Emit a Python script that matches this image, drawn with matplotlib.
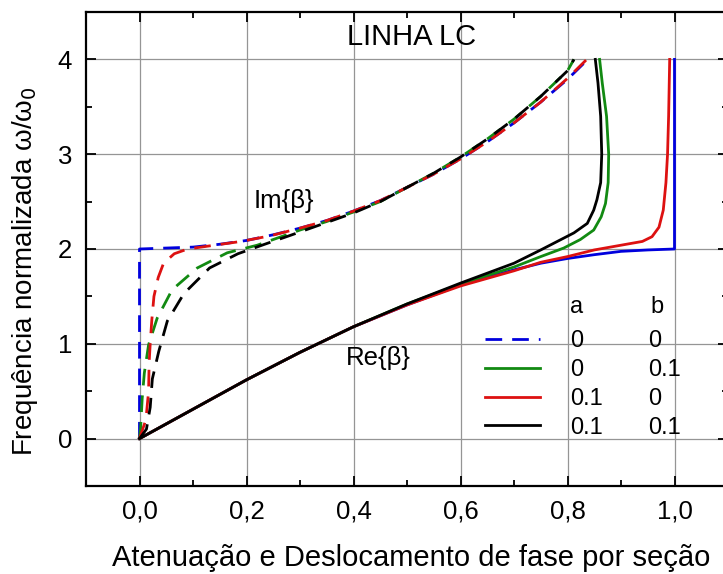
import matplotlib
matplotlib.use("Agg")
from matplotlib import pyplot as plt
from matplotlib.ticker import MultipleLocator, FixedLocator

plt.rcParams['font.family'] = ['Liberation Sans', 'DejaVu Sans']

# Re{beta} curves (x = phase shift per section, y = w/w0)
re_lossless_x = [0.0, 0.1, 0.2, 0.3, 0.4, 0.5, 0.6, 0.7, 0.75, 0.8, 0.85, 0.9, 0.95, 1.0, 1.0]
re_lossless_y = [0.0, 0.31, 0.62, 0.91, 1.18, 1.41, 1.62, 1.78, 1.85, 1.9, 1.94, 1.975, 1.99, 2.0, 4.0]

re_b01_x = [0.0, 0.1, 0.2, 0.3, 0.4, 0.5, 0.6, 0.7, 0.75, 0.793, 0.824, 0.849, 0.863, 0.871,
            0.876, 0.877, 0.873, 0.865, 0.86]
re_b01_y = [0.0, 0.31, 0.62, 0.91, 1.18, 1.42, 1.63, 1.81, 1.92, 2.01, 2.10, 2.20, 2.34, 2.48,
            2.70, 3.0, 3.4, 3.75, 4.0]

re_a01_x = [0.0, 0.1, 0.2, 0.3, 0.4, 0.5, 0.6, 0.7, 0.75, 0.8, 0.85, 0.9, 0.94, 0.958, 0.971,
            0.979, 0.984, 0.987, 0.989, 0.991]
re_a01_y = [0.0, 0.31, 0.62, 0.91, 1.18, 1.41, 1.61, 1.77, 1.86, 1.92, 1.99, 2.04, 2.08, 2.13,
            2.23, 2.41, 2.70, 3.0, 3.4, 4.0]

re_ab01_x = [0.0, 0.1, 0.2, 0.3, 0.4, 0.5, 0.6, 0.7, 0.75, 0.781, 0.812, 0.837, 0.849, 0.855,
             0.862, 0.864, 0.862, 0.857, 0.852]
re_ab01_y = [0.0, 0.31, 0.62, 0.91, 1.18, 1.42, 1.64, 1.85, 1.99, 2.08, 2.17, 2.27, 2.41, 2.52,
             2.70, 3.0, 3.4, 3.75, 4.0]

# Im{beta} curves (attenuation per section)
im_lossless_x = [0.0, 0.0, 0.1, 0.15, 0.2, 0.25, 0.3, 0.35, 0.4, 0.45, 0.5, 0.55, 0.6, 0.65,
                 0.7, 0.75, 0.8, 0.838]
im_lossless_y = [0.0, 2.0, 2.02, 2.05, 2.09, 2.15, 2.22, 2.3, 2.4, 2.51, 2.65, 2.79, 2.95, 3.13,
                 3.33, 3.55, 3.79, 4.0]

im_b01_x = [0.0, 0.002, 0.005, 0.009, 0.017, 0.033, 0.061, 0.108, 0.164, 0.22, 0.26, 0.3, 0.35,
            0.4, 0.45, 0.5, 0.55, 0.6, 0.65, 0.7, 0.75, 0.8, 0.812]
im_b01_y = [0.0, 0.1, 0.42, 0.69, 0.99, 1.27, 1.57, 1.80, 1.96, 2.04, 2.12, 2.2, 2.29,
            2.39, 2.5, 2.65, 2.8, 2.97, 3.16, 3.37, 3.61, 3.88, 4.0]

im_a01_x = [0.0, 0.012, 0.017, 0.018, 0.02, 0.023, 0.027, 0.035, 0.045, 0.065, 0.09, 0.14, 0.19,
            0.245, 0.3, 0.35, 0.4, 0.45, 0.5, 0.55, 0.6, 0.65, 0.7, 0.75, 0.8, 0.836]
im_a01_y = [0.0, 0.2, 0.5, 0.8, 1.0, 1.25, 1.5, 1.7, 1.85, 1.95, 2.0, 2.04, 2.08,
            2.14, 2.22, 2.3, 2.4, 2.51, 2.65, 2.79, 2.95, 3.13, 3.33, 3.55, 3.8, 4.0]

im_ab01_x = [0.0, 0.013, 0.02, 0.024, 0.036, 0.052, 0.083, 0.131, 0.184, 0.239, 0.28, 0.3, 0.35,
             0.4, 0.45, 0.5, 0.55, 0.6, 0.65, 0.7, 0.75, 0.8, 0.812]
im_ab01_y = [0.0, 0.1, 0.33, 0.63, 0.92, 1.24, 1.53, 1.80, 1.95, 2.06, 2.14, 2.18, 2.28,
             2.38, 2.5, 2.65, 2.8, 2.97, 3.16, 3.37, 3.61, 3.88, 4.0]

leg_a = ['0', '0', '0.1', '0.1']
leg_b = ['0', '0.1', '0', '0.1']

xtick_vals = [0.0, 0.2, 0.4, 0.6, 0.8, 1.0]
xtick_labels = ['0,0', '0,2', '0,4', '0,6', '0,8', '1,0']
ytick_vals = [0, 1, 2, 3, 4]

BLUE = '#0000dd'
GREEN = '#128a12'
RED = '#dd1111'
BLACK = '#000000'
DASH = (6, 3.6)

fig = plt.figure(figsize=(7.23, 5.74), dpi=100)
ax = fig.add_axes([86 / 723, 88 / 574, 642 / 723, 474 / 574])

curves = [
    (re_lossless_x, re_lossless_y, im_lossless_x, im_lossless_y, BLUE),
    (re_b01_x, re_b01_y, im_b01_x, im_b01_y, GREEN),
    (re_a01_x, re_a01_y, im_a01_x, im_a01_y, RED),
    (re_ab01_x, re_ab01_y, im_ab01_x, im_ab01_y, BLACK),
]
for rx, ry, ix, iy, col in curves:
    ax.plot(rx, ry, color=col, lw=2, solid_joinstyle='round', zorder=3)
    ax.plot(ix, iy, color=col, lw=2, dashes=DASH, zorder=3)

ax.set_xlim(-0.1, 1.1)
ax.set_ylim(-0.5, 4.5)
ax.xaxis.set_major_locator(FixedLocator(xtick_vals))
ax.set_xticklabels(xtick_labels)
ax.xaxis.set_minor_locator(MultipleLocator(0.1))
ax.yaxis.set_major_locator(FixedLocator(ytick_vals))
ax.yaxis.set_minor_locator(MultipleLocator(0.5))
ax.grid(True, which='major', color='#959595', lw=0.9, zorder=1)
ax.set_axisbelow(True)

ax.tick_params(which='both', direction='in', top=True, right=True, width=1.3,
               labelsize=18.5, pad=10)
ax.tick_params(which='major', length=7)
ax.tick_params(which='minor', length=4)
for side in ['left', 'bottom', 'top']:
    ax.spines[side].set_linewidth(1.6)
ax.spines['right'].set_visible(False)

ax.set_xlabel('Atenuação e Deslocamento de fase por seção', fontsize=21)
ax.xaxis.set_label_coords(0.506, -0.169)
ax.xaxis.label.set_va('baseline')
ax.set_ylabel(r'Frequência normalizada ω/ω$_0$', fontsize=20)
ax.yaxis.set_label_coords(-0.095, 0.4525)
ax.yaxis.label.set_va('center')

ax.text(0.509, 4.24, 'LINHA LC', fontsize=21, ha='center', va='center')
ax.text(0.213, 2.51, 'Im{β}', fontsize=18.5, ha='left', va='center')
ax.text(0.385, 0.85, 'Re{β}', fontsize=18.5, ha='left', va='center')

# legend table with the a / b loss values
tr = ax.transAxes
ax.text(0.7539, 0.365, 'a', fontsize=17, transform=tr, va='baseline')
ax.text(0.8785, 0.365, 'b', fontsize=17, transform=tr, va='baseline')
row_line_y = [0.3095, 0.2496, 0.1884, 0.1287]
row_text_y = [0.2939, 0.2321, 0.1709, 0.1097]
row_cols = [BLUE, GREEN, RED, BLACK]
for i in range(4):
    style = dict(dashes=DASH) if i == 0 else {}
    ax.plot([0.6215, 0.707], [row_line_y[i]] * 2, color=row_cols[i], lw=2,
            transform=tr, **style)
    ax.text(0.7539, row_text_y[i], leg_a[i], fontsize=17, transform=tr, va='baseline')
    ax.text(0.8759, row_text_y[i], leg_b[i], fontsize=17, transform=tr, va='baseline')

fig.savefig('out.png', dpi=100)
